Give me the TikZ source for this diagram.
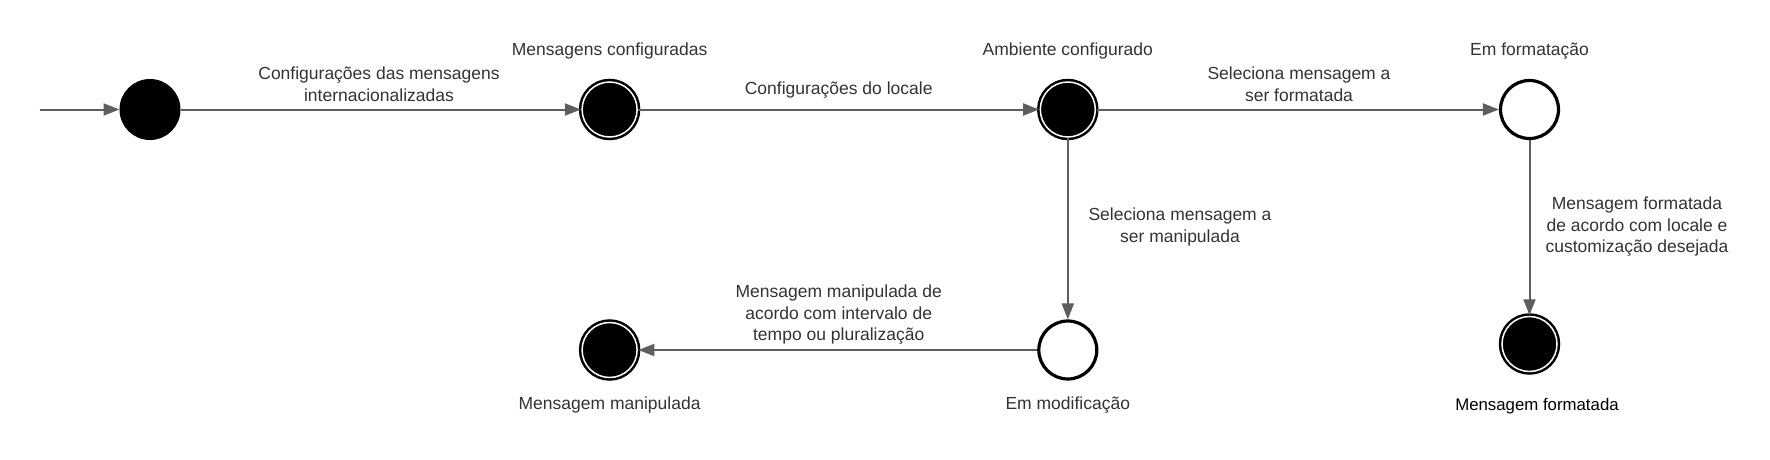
\documentclass[tikz,border=0pt]{standalone}
\usepackage{fontspec}
\setmainfont{Liberation Sans}
\usetikzlibrary{arrows.meta}
\definecolor{linegray}{HTML}{5E5E5E}
\definecolor{textgray}{HTML}{333333}
\begin{document}
\begin{tikzpicture}[x=1pt,y=-1pt,
 every node/.style={font=\fontsize{17.5}{21.5}\selectfont, text=textgray, align=center, inner sep=0pt},
 initstate/.style={circle, fill=black, draw=black, line width=1pt, minimum size=60pt},
 finalstate/.style={circle, fill=black, draw=black, double=white, double distance=1.5pt, line width=2.5pt, minimum size=55pt},
 plainstate/.style={circle, fill=white, draw=black, line width=3.2pt, minimum size=58pt},
 conn/.style={draw=linegray, line width=2pt, -{Triangle[length=16pt,width=12pt]}, fill=linegray},
 blacklabel/.style={text=black, font=\fontsize{16.8}{20}\selectfont}]
\useasboundingbox (0,0) rectangle (1770,460);
\coordinate (start) at (39.5,109.5);
\node[initstate] (s0) at (150,109.5) {};
\node[finalstate] (s1) at (609.6,109.5) {};
\node[finalstate] (s2) at (1067.8,109.5) {};
\node[plainstate] (s3) at (1529.5,109.5) {};
\node[finalstate] (s4) at (1529.5,344) {};
\node[plainstate] (s5) at (1067.8,350) {};
\node[finalstate] (s6) at (609.6,350) {};

\node (n1) at (609.6,50.8) {Mensagens configuradas};
\node (n2) at (1067.8,50.8) {Ambiente configurado};
\node (n3) at (1529.5,50.8) {Em formatação};
\node[blacklabel] (n4) at (1537,406) {Mensagem formatada};
\node (n5) at (1067.8,405) {Em modificação};
\node (n6) at (609.6,405) {Mensagem manipulada};

\draw[conn] (start) -- (s0);
\draw[conn] (s0) -- (s1);
\draw[conn] (s1) -- (s2);
\draw[conn] (s2) -- (s3);
\draw[conn] (s2) -- (s5);
\draw[conn] (s5) -- (s6);
\draw[conn] (s3) -- (s4);

\node (l1) at (379,84) {Configurações das mensagens\\internacionalizadas};
\node (l2) at (838.7,90) {Configurações do locale};
\node (l3) at (1299,84) {Seleciona mensagem a\\ser formatada};
\node (l4) at (1180,227) {Seleciona mensagem a\\ser manipulada};
\node (l5) at (838.7,315) {Mensagem manipulada de\\acordo com intervalo de\\tempo ou pluralização};
\node (l6) at (1637,227) {Mensagem formatada\\de acordo com locale e\\customização desejada};
\end{tikzpicture}
\end{document}
